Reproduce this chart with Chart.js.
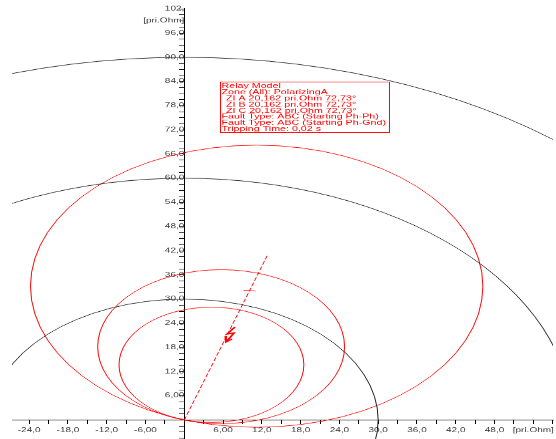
<!DOCTYPE html>
<html>
<head>
<meta charset="utf-8">
<script src="https://cdn.jsdelivr.net/npm/chart.js@4.4.1/dist/chart.umd.min.js"></script>
<style>
  html, body { margin: 0; padding: 0; background: #fff; overflow: hidden; }
  /* the plot is drawn with equal R/X scaling, then squashed vertically like the export */
  #wrap { width: 556px; height: 704px; transform: scaleY(0.6236); transform-origin: 0 0; }
</style>
</head>
<body>
<div id="wrap"><canvas id="rx" width="556" height="704"></canvas></div>
<script>
// R-X plane, everything in pri.Ohm
const xTickValues = [-24, -18, -12, -6, 6, 12, 18, 24, 30, 36, 42, 48, 54];
const xTickText = ["-24,0", "-18,0", "-12,0", "-6,00", "6,00", "12,0", "18,0", "24,0", "30,0", "36,0", "42,0", "48,0", "[pri.Ohm]"];
const yTickValues = [6, 12, 18, 24, 30, 36, 42, 48, 54, 60, 66, 72, 78, 84, 90, 96, 99, 102];
const yTickText = ["6,00", "12,0", "18,0", "24,0", "30,0", "36,0", "42,0", "48,0", "54,0", "60,0", "66,0", "72,0", "78,0", "84,0", "90,0", "96,0", "[pri.Ohm]", "102,"];

// starting circles around the origin (radius)
const startRadii = [30, 60, 90];
// polarizing mho zones: centre R, centre X, radius
const mhoCenterR = [11.2, 5.7, 4.2];
const mhoCenterX = [33.2, 18.2, 13.7];
const mhoRadius = [35.0, 19.1, 14.3];

// impedance trajectory and markers
const zLine = [{ x: 0, y: 0 }, { x: 12.9, y: 41.0 }];
const zMark = [{ x: 9.15, y: 32.2 }, { x: 11.05, y: 32.0 }];
const faultBolt = [{ x: 7.84, y: 23.08 }, { x: 6.61, y: 21.34 }, { x: 7.69, y: 21.59 }, { x: 6.45, y: 19.35 }];
const faultArrow = [{ x: 6.37, y: 20.84 }, { x: 6.45, y: 19.35 }, { x: 7.38, y: 20.1 }];

const boxLines = [
  "Relay Model",
  "Zone (All): PolarizingA",
  "ZI A 20,162 pri.Ohm 72,73°",
  "ZI B 20,162 pri.Ohm 72,73°",
  "ZI C 20,162 pri.Ohm 72,73°",
  "Fault Type: ABC (Starting Ph-Ph)",
  "Fault Type: ABC (Starting Ph-Gnd)",
  "Tripping Time: 0,02 s",
];
const boxAnchor = [5.52, 83.94];

const FONT = '"Liberation Sans", Arial, sans-serif';
const RED = "#ff0000";

function labelFor(values, texts, v) {
  const i = values.findIndex((t) => Math.abs(t - v) < 1e-6);
  return i < 0 ? "" : texts[i];
}

// circle radius given in ohm, turned into pixels by the x scale
function ohmRadius(c) {
  const xs = c.chart.scales.x;
  if (!c.raw || !xs) return 0;
  const px = Math.abs(xs.getPixelForValue(c.raw.ohm) - xs.getPixelForValue(0));
  return isFinite(px) ? px : 0;
}

// axes sit inside the plot, so their end labels must not shrink it
function noEdgePadding(scale) {
  scale.paddingTop = 0;
  scale.paddingBottom = 0;
  scale.paddingLeft = 0;
  scale.paddingRight = 0;
}

function circleSet(points, color) {
  return {
    type: "bubble",
    data: points,
    parsing: false,
    borderColor: color,
    backgroundColor: "rgba(0,0,0,0)",
    borderWidth: 1,
    radius: ohmRadius,
    hoverRadius: 0,
    clip: 0,
  };
}

function lineSet(points, color, width, dash) {
  return {
    type: "line",
    data: points,
    borderColor: color,
    borderWidth: width,
    borderDash: dash || [],
    pointRadius: 0,
    fill: false,
    tension: 0,
  };
}

const relayBox = {
  id: "relayBox",
  afterDatasetsDraw(chart) {
    const { ctx, scales } = chart;
    const left = scales.x.getPixelForValue(boxAnchor[0]);
    const top = scales.y.getPixelForValue(boxAnchor[1]);
    ctx.save();
    ctx.fillStyle = "#fff";
    ctx.fillRect(left, top, 169, 81);
    ctx.strokeStyle = RED;
    ctx.lineWidth = 1;
    ctx.strokeRect(left + 0.5, top + 0.5, 169, 81);
    ctx.fillStyle = RED;
    ctx.font = "10.7px " + FONT;
    ctx.textBaseline = "middle";
    boxLines.forEach((t, i) => {
      const indent = t.startsWith("ZI") ? 6 : 1.5;
      ctx.fillText(t, left + indent, top + 7 + i * 9.9);
    });
    ctx.restore();
  },
};

const datasets = [
  circleSet(startRadii.map((r) => ({ x: 0, y: 0, ohm: r })), "#1e1e1e"),
  circleSet(mhoRadius.map((r, i) => ({ x: mhoCenterR[i], y: mhoCenterX[i], ohm: r })), RED),
  lineSet(zLine, RED, 1, [6, 3]),
  lineSet(zMark, RED, 1),
  lineSet(faultBolt, RED, 2),
  lineSet(faultArrow, RED, 2),
];

new Chart(document.getElementById("rx"), {
  type: "scatter",
  data: { datasets },
  options: {
    responsive: false,
    devicePixelRatio: 1,
    animation: false,
    events: [],
    layout: { padding: { left: 12, right: 3, top: 13, bottom: 0 } },
    plugins: { legend: { display: false }, tooltip: { enabled: false } },
    scales: {
      x: {
        type: "linear",
        position: { y: 0 },
        min: -26.66,
        max: 57.05,
        afterFit: noEdgePadding,
        border: { display: true, color: "#000", width: 1 },
        grid: { drawOnChartArea: false, drawTicks: true, tickLength: 6, color: "#000" },
        ticks: {
          stepSize: 3,
          includeBounds: false,
          autoSkip: false,
          maxRotation: 0,
          padding: 5,
          color: "#3a3a3a",
          font: { family: FONT, size: 10 },
          callback: (v) => labelFor(xTickValues, xTickText, v),
        },
      },
      y: {
        type: "linear",
        position: { x: 0 },
        min: -4.72,
        max: 102.2,
        afterFit: noEdgePadding,
        border: { display: true, color: "#000", width: 1 },
        grid: { drawOnChartArea: false, drawTicks: true, tickLength: 5, color: "#000" },
        ticks: {
          stepSize: 1.5,
          includeBounds: false,
          autoSkip: false,
          padding: 3,
          color: "#3a3a3a",
          font: { family: FONT, size: 10 },
          callback: (v) => labelFor(yTickValues, yTickText, v),
        },
      },
    },
  },
  plugins: [relayBox],
});
</script>
</body>
</html>
